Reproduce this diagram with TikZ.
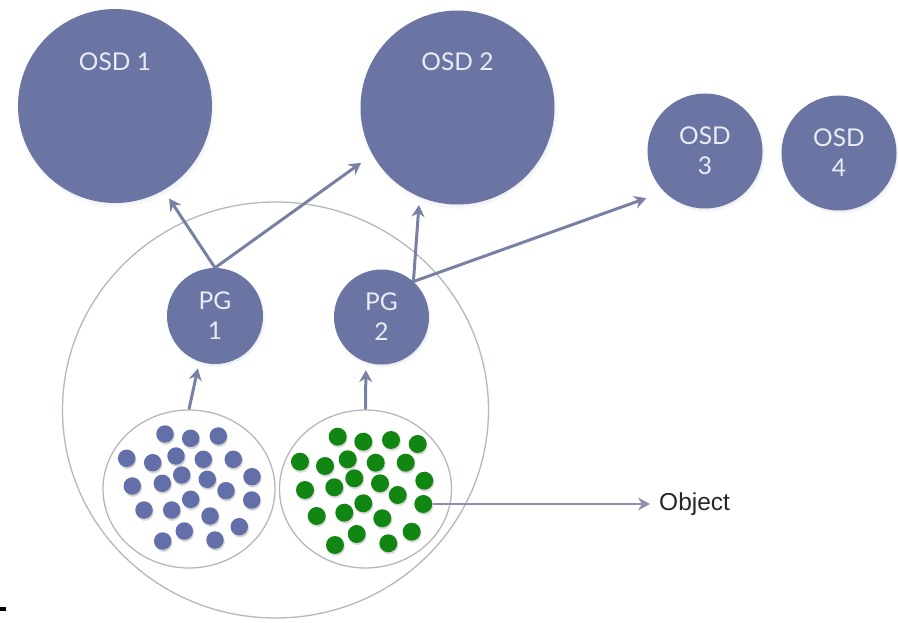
\documentclass[tikz,border=0pt]{standalone}
\usepackage{fontspec}
\newfontfamily\labfont{Lato}
\newfontfamily\objfont{Liberation Sans}
\usetikzlibrary{arrows.meta,shapes.geometric,shadows}

\definecolor{osdc}{RGB}{106,117,164}
\definecolor{bdotc}{RGB}{98,111,168}
\definecolor{gdotc}{RGB}{18,134,18}
\definecolor{arrc}{RGB}{120,129,164}
\definecolor{objarr}{RGB}{138,144,174}
\definecolor{ringc}{RGB}{180,182,194}
\definecolor{labc}{RGB}{234,236,245}

\begin{document}
\begin{tikzpicture}[x=1pt,y=-1pt,
  disk/.style={circle, fill=osdc, inner sep=0pt, text=labc,
    font=\labfont\fontsize{24.5}{30}\selectfont, align=center,
    circular drop shadow={shadow scale=1.03, shadow xshift=1pt,
      shadow yshift=-2pt, opacity=.3}},
  bigdisk/.style={disk, minimum size=194pt},
  osddisk/.style={disk, minimum size=115pt},
  pgdisk/.style={disk, minimum size=96pt},
  lbl/.style={text=labc, font=\labfont\fontsize{24.5}{30}\selectfont, inner sep=0pt},
  ring/.style={ellipse, draw=ringc, line width=1.3pt, inner sep=0pt},
  bdot/.style={circle, fill=bdotc, inner sep=0pt, minimum size=17.5pt,
    circular drop shadow={shadow scale=1.08, shadow xshift=.5pt,
      shadow yshift=-1.5pt, opacity=.35}},
  gdot/.style={circle, fill=gdotc, inner sep=0pt, minimum size=18pt,
    circular drop shadow={shadow scale=1.08, shadow xshift=.5pt,
      shadow yshift=-1.5pt, opacity=.3}},
  arr/.style={draw=arrc, line width=3pt,
    -{Stealth[length=12pt,width=13pt,inset=4pt]}},
]
\useasboundingbox (0,0) rectangle (898,623);

% placement group and the two object sets
\node[ring, minimum width=426pt, minimum height=416pt] (pool) at (275.5,410) {};
\node[ring, minimum width=172pt, minimum height=158pt] (bset) at (189,489) {};
\node[ring, minimum width=172pt, minimum height=158pt] (gset) at (365.5,489) {};

% object storage daemons
\node[bigdisk] (osd1) at (115,106) {};
\node[lbl] (osd1t) at ([yshift=44pt]osd1.center) {OSD 1};
\node[bigdisk] (osd2) at (457.5,107.5) {};
\node[lbl] (osd2t) at ([yshift=45.5pt]osd2.center) {OSD 2};
\node[osddisk] (osd3) at (705,151) {OSD\\3};
\node[osddisk] (osd4) at (839,153) {OSD\\4};

% placement groups
\node[pgdisk] (pg1) at (215,316) {PG\\1};
\node[pgdisk, minimum size=95pt] (pg2) at (381.5,317) {PG\\2};

% objects
\foreach \x/\y [count=\i] in {165/434,190.7/438.3,218.3/436,126.7/458.3,
  152.7/462.7,176/456,203.3/459.3,233.3/459.3,181.7/475,207.3/479.3,
  132.3/486,162.3/483.3,252/476.7,226/490.7,190.7/499.3,251.7/500,
  144/510,171.7/510,210/516,184.3/531,239.3/526.7,162.7/541,215/540}
  \node[bdot] (b\i) at (\x,\y) {};

\foreach \x/\y [count=\i] in {337.7/436.7,363.3/441.7,391/440,417.7/444,
  300/461.7,325/466,347.7/459.3,375.7/462.7,405.7/462.7,354.3/478.3,
  380/483.3,305/490,334.3/487.3,424.3/480.7,397.7/495,363.3/503.3,
  423.3/504,316.7/516,344.3/512.7,382.3/518.3,356.7/534,411.7/531.7,
  335/545,388.3/543.3}
  \node[gdot] (g\i) at (\x,\y) {};

\node[font=\objfont\fontsize{24.5}{29}\selectfont, text=black!85, anchor=west,
  inner sep=0pt] (obj) at (659,504) {Object};

% mappings
\draw[arr, shorten >=7pt] (bset.north) -- (pg1.251);
\draw[arr, shorten >=8pt] (gset.north) -- (pg2.251);
\draw[arr, shorten >=10pt] (pg1.north) -- (osd1.-60);
\draw[arr, shorten >=14pt] (pg1.north) -- (osd2.209.5);
\draw[arr, shorten >=8pt] (pg2.48) -- (osd2.247.5);
\draw[arr, shorten >=19pt] (pg2.48) -- (osd3.225);
\draw[arr, draw=objarr, line width=2.4pt, shorten >=9pt] (g17.east) -- (obj.west);

% edge mark
\fill[black] (0,606.5) rectangle (6,611) coordinate (mark);
\end{tikzpicture}
\end{document}
